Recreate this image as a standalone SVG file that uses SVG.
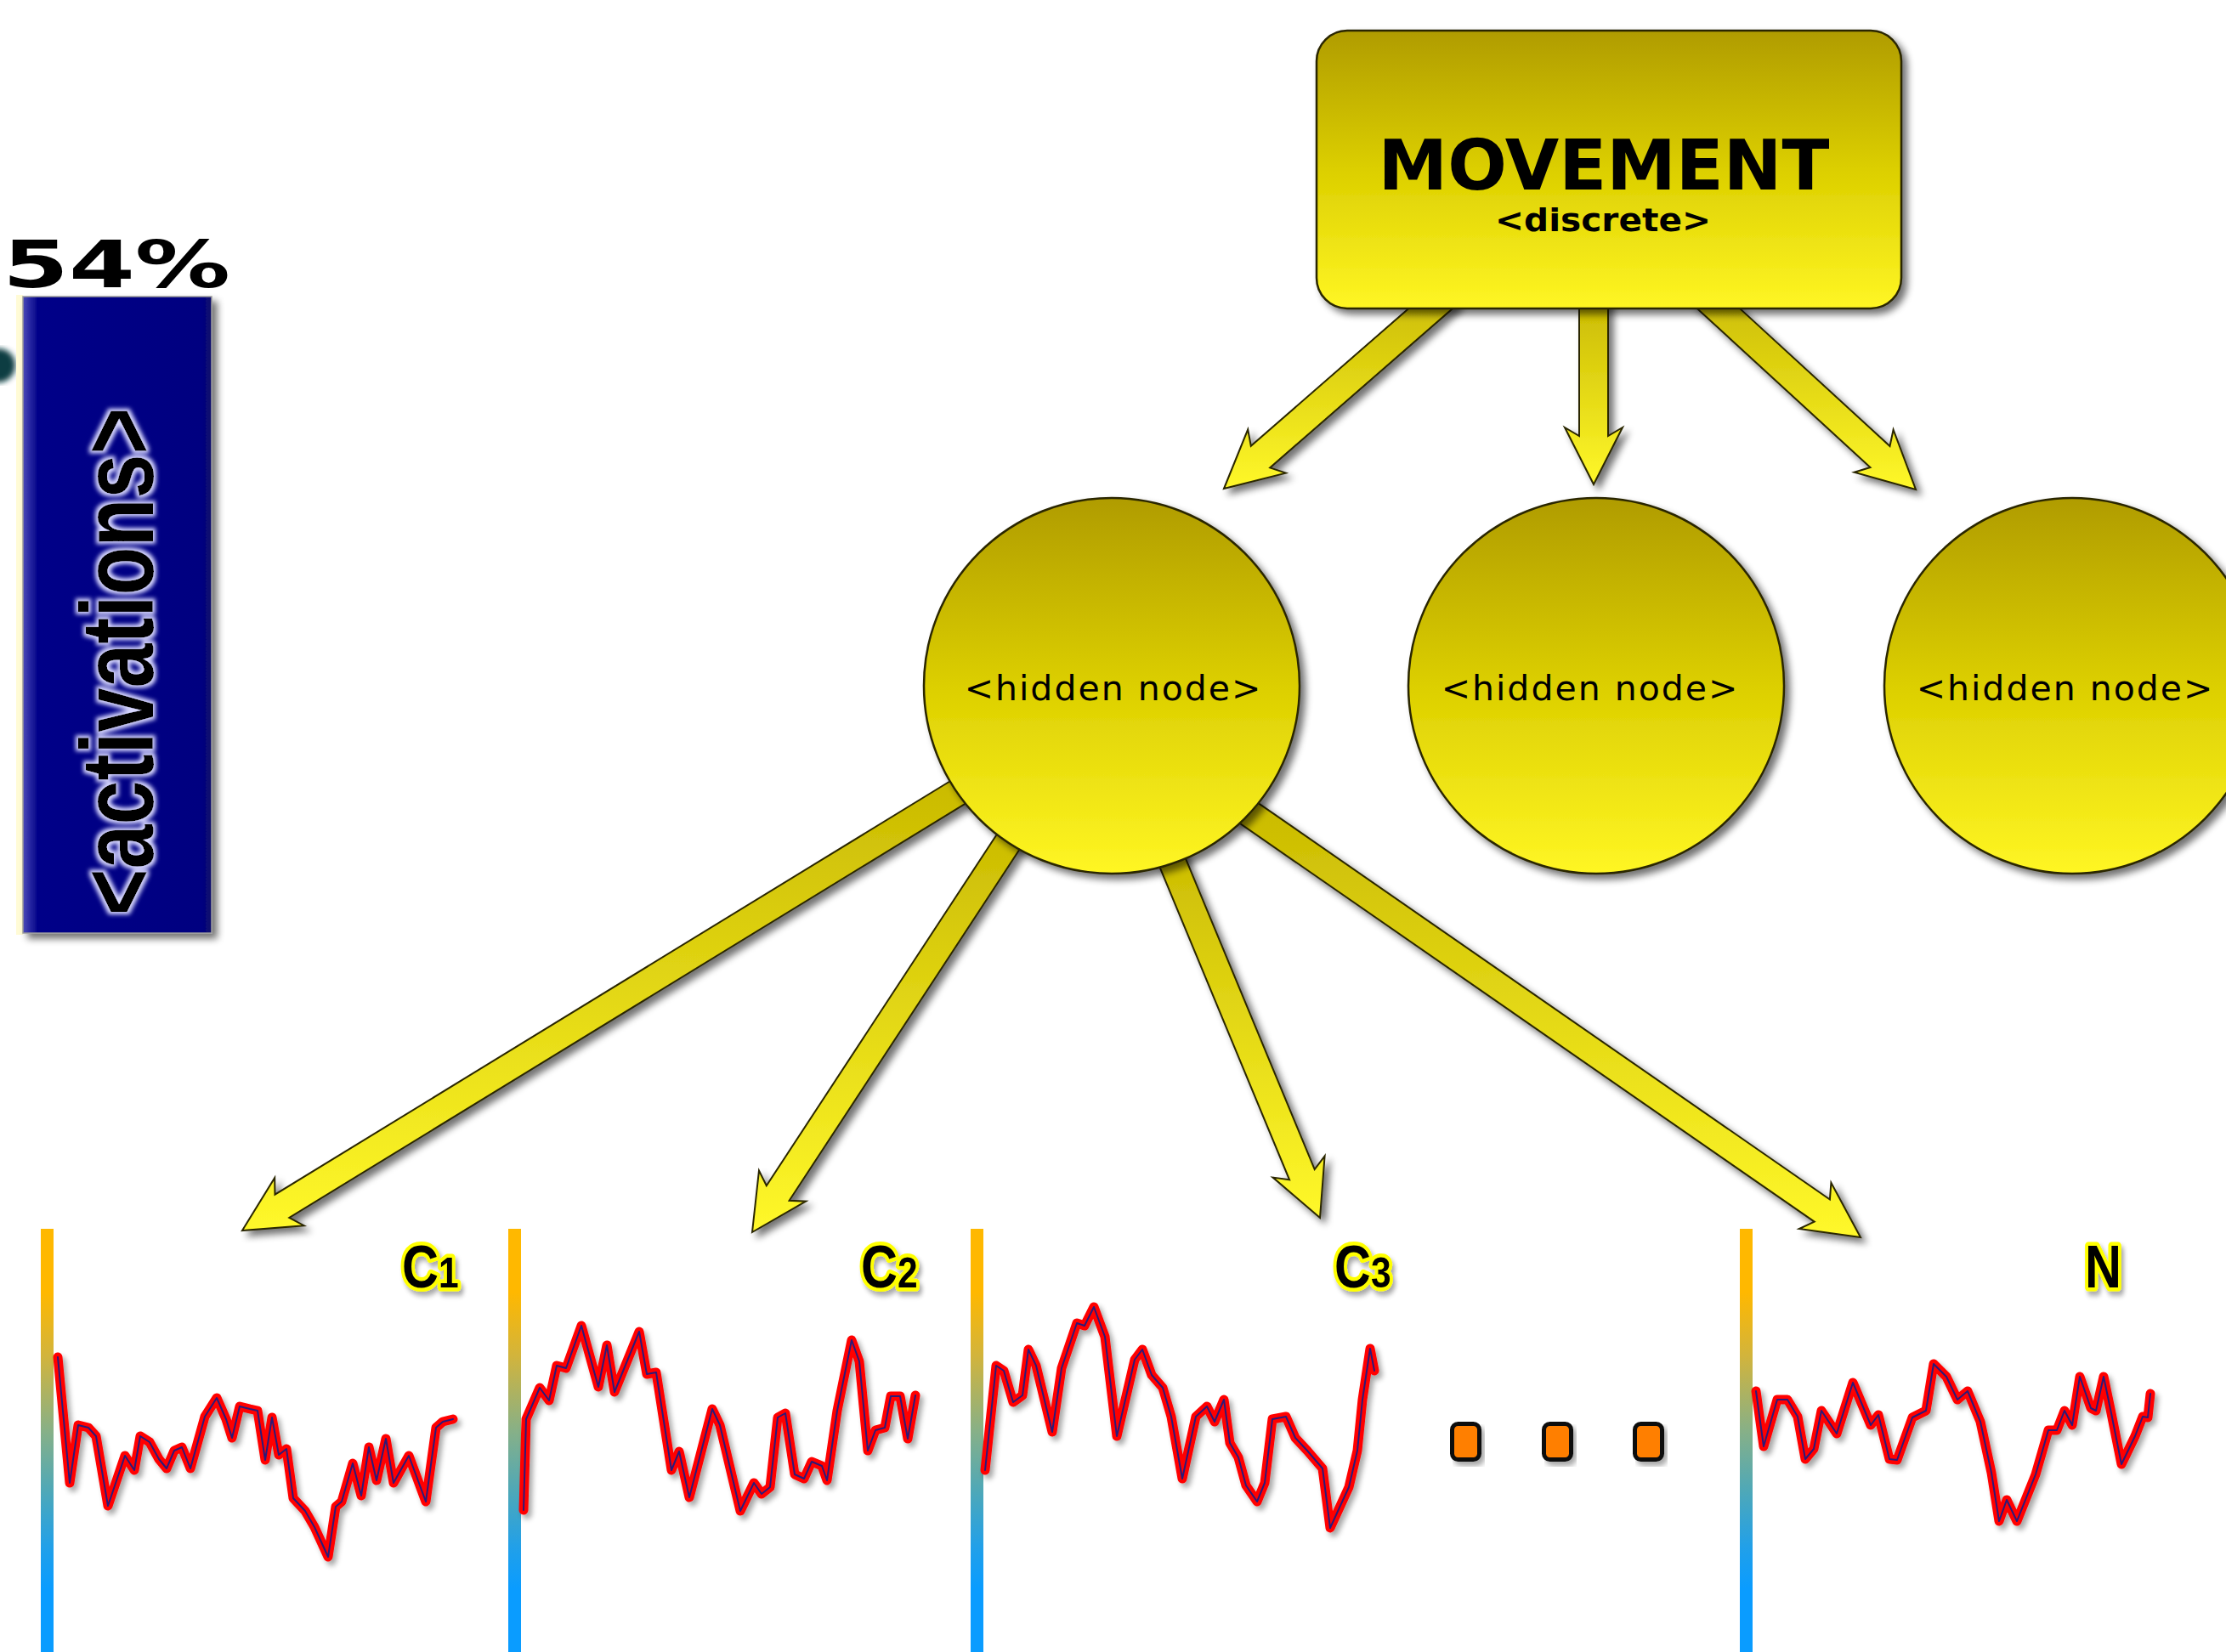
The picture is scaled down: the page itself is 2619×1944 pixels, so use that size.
<svg xmlns="http://www.w3.org/2000/svg" xmlns:xlink="http://www.w3.org/1999/xlink" width="2619" height="1944" viewBox="0 0 2619 1944">
<style>
  .node { fill: url(#nodeGrad); stroke: #2a2600; stroke-width: 2.5; filter: url(#shadow); }
  .arrow { fill: url(#arrowGrad); stroke: #2a2600; stroke-width: 2; stroke-linejoin: miter; filter: url(#shadow); }
  .hidden-label { font-family: "DejaVu Sans", Verdana, sans-serif; font-size: 41px; letter-spacing: 2px; fill: #000; text-anchor: middle; }
  .axis { fill: url(#axisGrad); }
  .wave { fill: none; stroke: #ff0000; stroke-width: 11; stroke-linejoin: round; stroke-linecap: round; filter: url(#softShadow); }
  .wave-core { fill: none; stroke: #2a1a7a; stroke-width: 2; stroke-linejoin: round; stroke-linecap: round; }
  .clabel { font-family: "Liberation Sans", Arial, sans-serif; font-weight: bold; font-size: 70px; fill: #000; stroke: #ffff00; stroke-width: 9; stroke-linejoin: round; paint-order: stroke; filter: url(#softShadow); }
  .dot { fill: #ff7f00; stroke: #111; stroke-width: 5; filter: url(#softShadow); }
</style>
<defs>
  <linearGradient id="nodeGrad" x1="0" y1="0" x2="0" y2="1">
    <stop offset="0" stop-color="#b09c00"/>
    <stop offset="0.5" stop-color="#dccf00"/>
    <stop offset="1" stop-color="#fff624"/>
  </linearGradient>
  <linearGradient id="arrowGrad" x1="0" y1="0" x2="0" y2="1">
    <stop offset="0" stop-color="#c8b800"/>
    <stop offset="1" stop-color="#fff82a"/>
  </linearGradient>
  <linearGradient id="axisGrad" x1="0" y1="0" x2="0" y2="1">
    <stop offset="0" stop-color="#ffb800"/>
    <stop offset="0.15" stop-color="#ffb800"/>
    <stop offset="0.3" stop-color="#d2b43c"/>
    <stop offset="0.48" stop-color="#86b088"/>
    <stop offset="0.62" stop-color="#4ea8b8"/>
    <stop offset="0.75" stop-color="#22a0e8"/>
    <stop offset="0.85" stop-color="#0a9cff"/>
    <stop offset="1" stop-color="#0a9cff"/>
  </linearGradient>
  <linearGradient id="barGrad" x1="0" y1="0" x2="1" y2="0">
    <stop offset="0" stop-color="#4a4ab8"/>
    <stop offset="0.08" stop-color="#000088"/>
    <stop offset="0.95" stop-color="#000080"/>
    <stop offset="1" stop-color="#10106a"/>
  </linearGradient>
  <filter id="shadow" x="-20%" y="-20%" width="150%" height="150%">
    <feGaussianBlur in="SourceAlpha" stdDeviation="4"/>
    <feOffset dx="6" dy="6"/>
    <feComponentTransfer><feFuncA type="linear" slope="0.55"/></feComponentTransfer>
    <feMerge><feMergeNode/><feMergeNode in="SourceGraphic"/></feMerge>
  </filter>
  <filter id="softShadow" x="-10%" y="-10%" width="130%" height="130%">
    <feGaussianBlur in="SourceAlpha" stdDeviation="3"/>
    <feOffset dx="4" dy="5"/>
    <feComponentTransfer><feFuncA type="linear" slope="0.35"/></feComponentTransfer>
    <feMerge><feMergeNode/><feMergeNode in="SourceGraphic"/></feMerge>
  </filter>
  <filter id="glow" x="-10%" y="-10%" width="120%" height="120%">
    <feMorphology in="SourceAlpha" operator="dilate" radius="3" result="d"/>
    <feGaussianBlur in="d" stdDeviation="2.5" result="b"/>
    <feFlood flood-color="#d8d8ff"/>
    <feComposite in2="b" operator="in"/>
    <feMerge><feMergeNode/><feMergeNode in="SourceGraphic"/></feMerge>
  </filter>
  <filter id="blur2"><feGaussianBlur stdDeviation="3"/></filter>
</defs>

<rect width="2619" height="1944" fill="#ffffff"/>

<!-- partial activation bar at left -->
<g id="activation-bar">
  <ellipse cx="-2" cy="430" rx="20" ry="20" fill="#0b3d42" filter="url(#blur2)"/>
  <rect x="19" y="347" width="8" height="753" fill="#fffbd6"/>
  <rect x="27" y="349" width="222" height="749" fill="url(#barGrad)" stroke="#9a9a9a" stroke-width="1.5" filter="url(#shadow)"/>
  <text x="3" y="338" font-family="'DejaVu Sans', Verdana, sans-serif" font-weight="bold" font-size="76" textLength="268" lengthAdjust="spacingAndGlyphs" fill="#000">54%</text>
  <text transform="translate(180,1077) rotate(-90)" x="0" y="0" font-family="'Liberation Sans', Arial, sans-serif" font-weight="bold" font-size="120" textLength="597" lengthAdjust="spacingAndGlyphs" fill="#000" filter="url(#glow)">&lt;activations&gt;</text>
</g>

<!-- connectors -->
<g id="connectors">
  <polygon id="arrow-movement-hidden1" class="arrow" points="1440,575 1468.2,505.4 1471.8,524.8 1692.4,332.5 1714.8,358.1 1494.2,550.4 1512.8,556.6"/>
  <polygon id="arrow-movement-hidden2" class="arrow" points="1875,570 1841,503 1858,513 1858,345 1892,345 1892,513 1909,503"/>
  <polygon id="arrow-movement-hidden3" class="arrow" points="2254,576 2181.6,555.8 2200.5,550 1990.4,357.2 2013.4,332.2 2223.5,525 2227.6,505.6"/>
  <polygon id="arrow-hidden1-c1" class="arrow" points="285,1448 323.2,1386 323.5,1405.7 1151.7,898.5 1168.5,925.7 340.3,1432.9 357.6,1442.2"/>
  <polygon id="arrow-hidden1-c2" class="arrow" points="885,1450 893,1377.5 901.8,1395.2 1194.5,948.8 1221.3,966.4 928.6,1412.8 948.2,1413.7"/>
  <polygon id="arrow-hidden1-c3" class="arrow" points="1553,1433 1497.6,1385.6 1517.1,1388.3 1349.9,985.2 1379.5,973 1546.7,1376.1 1558.6,1360.4"/>
  <polygon id="arrow-hidden1-n" class="arrow" points="2189,1456 2116.8,1446 2134.7,1437.7 1432,950.3 1450.2,924.1 2152.9,1411.5 2154.4,1391.8"/>
</g>

<!-- nodes -->
<g id="movement">
  <rect class="node" x="1549" y="36" width="688" height="327" rx="36" ry="36"/>
  <text x="1887" y="223" font-family="'DejaVu Sans', Verdana, sans-serif" font-weight="bold" font-size="82" text-anchor="middle" fill="#000">MOVEMENT</text>
  <text x="1886" y="272" font-family="'DejaVu Sans', Verdana, sans-serif" font-weight="bold" font-size="38" text-anchor="middle" textLength="254" lengthAdjust="spacingAndGlyphs" fill="#000">&lt;discrete&gt;</text>
</g>

<g id="hidden1">
  <circle class="node" cx="1308" cy="807" r="221"/>
  <text class="hidden-label" x="1310" y="824">&lt;hidden node&gt;</text>
</g>
<g id="hidden2">
  <circle class="node" cx="1878" cy="807" r="221"/>
  <text class="hidden-label" x="1871" y="824">&lt;hidden node&gt;</text>
</g>
<g id="hidden3">
  <circle class="node" cx="2438" cy="807" r="221"/>
  <text class="hidden-label" x="2430" y="824">&lt;hidden node&gt;</text>
</g>

<!-- channel C1 -->
<g id="channel-c1">
  <rect class="axis" x="48" y="1446" width="15" height="498"/>
  <polyline class="wave" points="68,1597 82,1745 92,1677 104,1680 113,1690 127,1772 147,1713 158,1730 165,1690 176,1697 187,1717 196,1728 205,1707 214,1703 224,1728 241,1667 255,1645 266,1670 273,1692 282,1655 294,1658 303,1660 312,1718 320,1668 328,1712 337,1705 345,1763 359,1778 370,1797 386,1832 395,1773 402,1767 415,1722 425,1760 434,1703 443,1742 454,1693 463,1745 481,1713 501,1767 513,1680 521,1673 533,1670"/>
  <polyline class="wave-core" points="68,1597 82,1745 92,1677 104,1680 113,1690 127,1772 147,1713 158,1730 165,1690 176,1697 187,1717 196,1728 205,1707 214,1703 224,1728 241,1667 255,1645 266,1670 273,1692 282,1655 294,1658 303,1660 312,1718 320,1668 328,1712 337,1705 345,1763 359,1778 370,1797 386,1832 395,1773 402,1767 415,1722 425,1760 434,1703 443,1742 454,1693 463,1745 481,1713 501,1767 513,1680 521,1673 533,1670"/>
  <text class="clabel" transform="translate(473,1515) scale(0.85,1)">C<tspan font-size="50">1</tspan></text>
</g>

<!-- channel C2 -->
<g id="channel-c2">
  <rect class="axis" x="598" y="1446" width="15" height="498"/>
  <polyline class="wave" points="616,1777 619,1670 635,1633 646,1648 655,1607 666,1610 684,1560 704,1632 714,1583 723,1638 752,1567 761,1617 772,1615 790,1730 799,1708 811,1762 838,1658 847,1677 871,1778 887,1745 896,1758 906,1750 915,1668 924,1663 935,1735 946,1740 955,1720 967,1725 973,1742 985,1660 1002,1577 1011,1602 1021,1707 1030,1683 1041,1680 1048,1643 1059,1643 1068,1693 1077,1642"/>
  <polyline class="wave-core" points="616,1777 619,1670 635,1633 646,1648 655,1607 666,1610 684,1560 704,1632 714,1583 723,1638 752,1567 761,1617 772,1615 790,1730 799,1708 811,1762 838,1658 847,1677 871,1778 887,1745 896,1758 906,1750 915,1668 924,1663 935,1735 946,1740 955,1720 967,1725 973,1742 985,1660 1002,1577 1011,1602 1021,1707 1030,1683 1041,1680 1048,1643 1059,1643 1068,1693 1077,1642"/>
  <text class="clabel" transform="translate(1013,1515) scale(0.85,1)">C<tspan font-size="50">2</tspan></text>
</g>

<!-- channel C3 -->
<g id="channel-c3">
  <rect class="axis" x="1142" y="1446" width="15" height="498"/>
  <polyline class="wave" points="1159,1730 1172,1607 1181,1613 1192,1650 1203,1642 1210,1588 1219,1607 1238,1685 1249,1610 1267,1557 1276,1560 1287,1538 1300,1573 1314,1690 1335,1600 1344,1588 1355,1618 1368,1633 1378,1667 1391,1740 1407,1667 1420,1655 1429,1673 1440,1647 1447,1698 1457,1715 1466,1748 1479,1767 1488,1745 1497,1670 1513,1667 1524,1692 1538,1707 1556,1728 1565,1798 1587,1750 1597,1707 1603,1647 1612,1587 1617,1613"/>
  <polyline class="wave-core" points="1159,1730 1172,1607 1181,1613 1192,1650 1203,1642 1210,1588 1219,1607 1238,1685 1249,1610 1267,1557 1276,1560 1287,1538 1300,1573 1314,1690 1335,1600 1344,1588 1355,1618 1368,1633 1378,1667 1391,1740 1407,1667 1420,1655 1429,1673 1440,1647 1447,1698 1457,1715 1466,1748 1479,1767 1488,1745 1497,1670 1513,1667 1524,1692 1538,1707 1556,1728 1565,1798 1587,1750 1597,1707 1603,1647 1612,1587 1617,1613"/>
  <text class="clabel" transform="translate(1570,1515) scale(0.85,1)">C<tspan font-size="50">3</tspan></text>
</g>

<!-- ellipsis -->
<g id="ellipsis">
  <rect class="dot" x="1708.5" y="1675.5" width="32" height="42" rx="7"/>
  <rect class="dot" x="1816.5" y="1675.5" width="32" height="42" rx="7"/>
  <rect class="dot" x="1923.5" y="1675.5" width="32" height="42" rx="7"/>
</g>

<!-- channel N -->
<g id="channel-n">
  <rect class="axis" x="2047" y="1446" width="15" height="498"/>
  <polyline class="wave" points="2066,1637 2075,1702 2091,1647 2103,1647 2115,1667 2124,1717 2134,1705 2143,1660 2161,1687 2180,1627 2201,1677 2210,1665 2223,1717 2232,1718 2250,1668 2266,1660 2275,1605 2290,1620 2303,1647 2315,1637 2330,1673 2343,1733 2352,1790 2361,1765 2373,1790 2395,1735 2410,1683 2420,1683 2429,1660 2438,1677 2447,1620 2460,1657 2466,1660 2475,1620 2484,1663 2496,1723 2512,1690 2521,1667 2527,1668 2530,1640"/>
  <polyline class="wave-core" points="2066,1637 2075,1702 2091,1647 2103,1647 2115,1667 2124,1717 2134,1705 2143,1660 2161,1687 2180,1627 2201,1677 2210,1665 2223,1717 2232,1718 2250,1668 2266,1660 2275,1605 2290,1620 2303,1647 2315,1637 2330,1673 2343,1733 2352,1790 2361,1765 2373,1790 2395,1735 2410,1683 2420,1683 2429,1660 2438,1677 2447,1620 2460,1657 2466,1660 2475,1620 2484,1663 2496,1723 2512,1690 2521,1667 2527,1668 2530,1640"/>
  <text class="clabel" transform="translate(2453,1515) scale(0.85,1)">N</text>
</g>
</svg>
